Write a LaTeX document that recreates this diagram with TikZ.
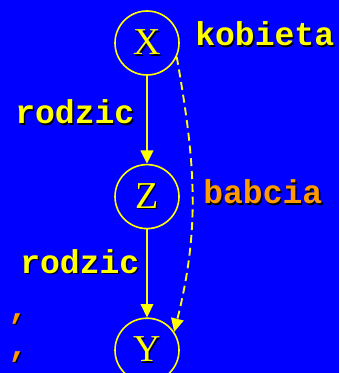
\documentclass[tikz,border=0pt]{standalone}
\usepackage{fontspec}
\setmainfont{Liberation Serif}
\setmonofont{Liberation Mono}
\usepackage{xcolor}
\usetikzlibrary{positioning, arrows.meta, calc}

\definecolor{slideblue}{RGB}{0,0,255}
\definecolor{slideyellow}{RGB}{255,255,0}
\definecolor{slideorange}{RGB}{255,153,0}

% text with a small black drop shadow
\newcommand{\shadowed}[1]{\rlap{\kern1pt\raisebox{-1pt}{\color{black}#1}}#1}

\begin{document}
\begin{tikzpicture}[
	x=0.75pt, y=0.75pt,
	node distance=66pt,
	% --- Styles ---
	person/.style={
		circle, draw=slideyellow, line width=1.2pt, text=slideyellow,
		minimum size=48pt, inner sep=0pt, font=\fontsize{28.5}{30}\selectfont
	},
	rel/.style={
		font=\ttfamily\bfseries\fontsize{24.8}{26}\selectfont, text=slideyellow,
		inner sep=0pt, anchor=base west
	},
	relorange/.style={
		rel, text=slideorange
	},
	line/.style={
		draw=slideyellow, line width=1.2pt, -{Triangle[length=10pt, width=9.5pt]}
	},
	dashline/.style={
		line, line width=1.4pt, dash pattern=on 6pt off 3.6pt
	}
	]
	
	% --- Background ---
	\fill [slideblue] (0,0) rectangle (339,-373);
	\useasboundingbox (0,0) rectangle (339,-373);
	
	% --- 1. Persons ---
	\node [person] (X) at (147,-43) {\shadowed{X}};
	\node [person, below=of X] (Z) {\shadowed{Z}};
	\node [person, below=of Z] (Y) {\shadowed{Y}};
	
	% --- 2. Relations ---
	\draw [line] (X) -- (Z);
	\draw [line] (Z) -- (Y);
	\draw [dashline] (X.-25) to[out=-80, in=76] (Y.34);
	
	% --- 3. Labels ---
	\node [rel] (kobieta) at (195,-46) {\shadowed{kobieta}};
	\node [rel] (rodzic1) at (15,-124) {\shadowed{rodzic}};
	\node [relorange] (babcia) at (203,-204) {\shadowed{babcia}};
	\node [rel] (rodzic2) at (20,-273) {\shadowed{rodzic}};
	
	% cut-off text at the left edge
	\node [relorange] (comma1) at (8,-318) {\shadowed{,}};
	\node [relorange] (comma2) at (8,-356) {\shadowed{,}};
	
\end{tikzpicture}
\end{document}
